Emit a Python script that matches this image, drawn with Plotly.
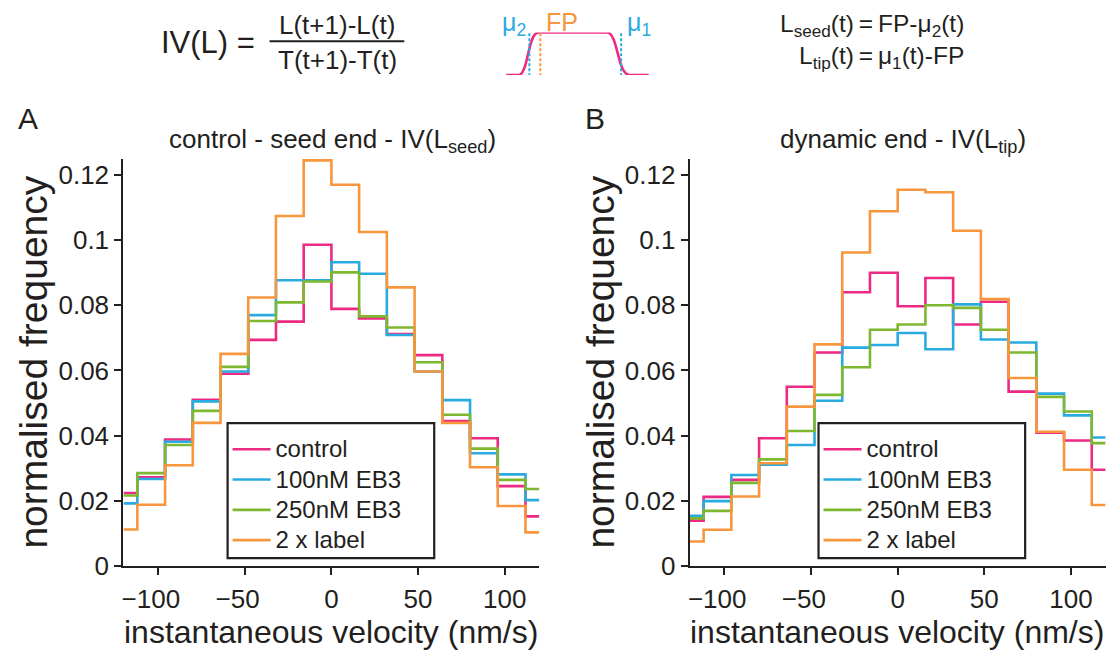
import plotly.graph_objects as go

# Histogram bin centres (nm/s), bin width 16
bin_centres = [-120, -104, -88, -72, -56, -40, -24, -8, 8, 24, 40, 56, 72, 88, 104, 120]

series_names = ["control", "100nM EB3", "250nM EB3", "2 x label"]
series_colours = ["#EC2A83", "#29AAE1", "#7DB830", "#F7963C"]

# Panel A: seed end, IV(L_seed)
seed_control = [0.0224, 0.0272, 0.0388, 0.0510, 0.0590, 0.0694, 0.0750, 0.0986,
                0.0789, 0.0760, 0.0712, 0.0647, 0.0445, 0.0392, 0.0245, 0.0152]
seed_100nM = [0.0192, 0.0267, 0.0381, 0.0505, 0.0597, 0.0770, 0.0877, 0.0877,
              0.0932, 0.0897, 0.0709, 0.0597, 0.0509, 0.0346, 0.0281, 0.0202]
seed_250nM = [0.0216, 0.0285, 0.0371, 0.0476, 0.0611, 0.0752, 0.0809, 0.0873,
              0.0901, 0.0766, 0.0732, 0.0625, 0.0464, 0.0360, 0.0264, 0.0236]
seed_2x = [0.0112, 0.0188, 0.0309, 0.0439, 0.0651, 0.0824, 0.1074, 0.1245,
           0.1170, 0.1025, 0.0855, 0.0597, 0.0439, 0.0303, 0.0184, 0.0103]

# Panel B: dynamic end, IV(L_tip)
tip_control = [0.0139, 0.0212, 0.0264, 0.0392, 0.0550, 0.0655, 0.0840, 0.0900,
               0.0797, 0.0884, 0.0741, 0.0811, 0.0535, 0.0409, 0.0385, 0.0295]
tip_100nM = [0.0154, 0.0199, 0.0279, 0.0311, 0.0371, 0.0507, 0.0670, 0.0678,
             0.0715, 0.0665, 0.0803, 0.0695, 0.0686, 0.0529, 0.0462, 0.0394]
tip_250nM = [0.0146, 0.0169, 0.0255, 0.0327, 0.0414, 0.0525, 0.0610, 0.0725,
             0.0741, 0.0800, 0.0792, 0.0725, 0.0655, 0.0519, 0.0474, 0.0377]
tip_2x = [0.0075, 0.0111, 0.0213, 0.0315, 0.0489, 0.0680, 0.0962, 0.1089,
          0.1155, 0.1147, 0.1029, 0.0819, 0.0577, 0.0412, 0.0295, 0.0187]

y_tickvals = [0, 0.02, 0.04, 0.06, 0.08, 0.1, 0.12]
y_ticktext = ["0", "0.02", "0.04", "0.06", "0.08", "0.1", "0.12"]
x_tickvals = [-100, -50, 0, 50, 100]
# negative labels keep their digits centred on the tick, minus sign hanging left
x_ticktext = ["\u2212100\u2007", "\u221250\u2007", "0", "50", "100"]

W, H = 1115, 664
FONT = "Liberation Sans, Arial, sans-serif"
INK = "#231F20"


def px(x):
    return x / W


def py(y):
    return 1 - y / H


fig = go.Figure()

panels = [
    ("x", "y", "legend", [seed_control, seed_100nM, seed_250nM, seed_2x]),
    ("x2", "y2", "legend2", [tip_control, tip_100nM, tip_250nM, tip_2x]),
]
for xa, ya, leg, data in panels:
    for name, colour, vals in zip(series_names, series_colours, data):
        fig.add_trace(go.Scatter(
            x=bin_centres, y=vals, mode="lines",
            name="<span style='font-size:24px'>%s</span>" % name,
            line=dict(color=colour, width=2.6, shape="hvh"),
            xaxis=xa, yaxis=ya, legend=leg, showlegend=True,
        ))

axis_common = dict(
    showgrid=False, zeroline=False, showline=True, linecolor=INK, linewidth=2.4,
    ticks="outside", ticklen=7, tickwidth=2, tickcolor=INK,
    tickfont=dict(family=FONT, size=26, color=INK),
)
plot_top, plot_bottom = 162.4, 579
ydom = [py(plot_bottom), py(plot_top)]

fig.update_layout(
    width=W, height=H,
    margin=dict(l=0, r=0, t=0, b=0),
    paper_bgcolor="white", plot_bgcolor="white",
    font=dict(family=FONT, color=INK),
    xaxis=dict(domain=[px(121.7), px(538.3)], range=[-120, 120], anchor="y",
               tickvals=x_tickvals, ticktext=x_ticktext, ticklabelstandoff=2,
               **axis_common),
    yaxis=dict(domain=ydom, range=[0, 0.125], anchor="x",
               tickvals=y_tickvals, ticktext=y_ticktext, **axis_common),
    xaxis2=dict(domain=[px(689), px(1105.6)], range=[-120, 120], anchor="y2",
                tickvals=x_tickvals, ticktext=x_ticktext, ticklabelstandoff=2,
                **axis_common),
    yaxis2=dict(domain=ydom, range=[0, 0.125], anchor="x2",
                tickvals=y_tickvals, ticktext=y_ticktext, **axis_common),
    # axes for the profile sketch above the panels
    xaxis3=dict(domain=[px(505), px(648)], range=[0, 7], anchor="y3", visible=False),
    yaxis3=dict(domain=[py(76.7), py(33.3)], range=[0, 1], anchor="x3", visible=False),
)

legend_common = dict(
    bgcolor="rgba(0,0,0,0)", borderwidth=0,
    font=dict(family=FONT, size=21, color=INK),
    xanchor="left", yanchor="top", tracegroupgap=0, itemwidth=38,
)
fig.update_layout(
    legend=dict(x=px(226), y=py(439), **legend_common),
    legend2=dict(x=px(818), y=py(439), **legend_common),
)

annotations = []


def text(x, y, s, size, colour=INK, xanchor="center", yanchor="middle"):
    annotations.append(dict(
        x=px(x), y=py(y), xref="paper", yref="paper", text=s, showarrow=False,
        xanchor=xanchor, yanchor=yanchor,
        font=dict(family=FONT, size=size, color=colour),
    ))


# panel letters and titles
text(26, 121.5, "A", 30)
text(594, 121.5, "B", 30)
text(331, 144, "control - seed end - IV(L<sub>seed</sub>)", 26)
text(903, 144, "dynamic end - IV(L<sub>tip</sub>)", 26)

# axis titles
for cx in (330, 897):
    text(cx, 647, "instantaneous velocity (nm/s)", 32)
for lx in (32, 600):
    annotations.append(dict(
        x=px(lx), y=py(370), xref="paper", yref="paper",
        text="normalised frequency", textangle=-90, showarrow=False,
        xanchor="center", yanchor="middle",
        font=dict(family=FONT, size=39, color=INK),
    ))

# instantaneous velocity definition
text(206, 43, "IV(L) =", 31)
text(336, 26, "L(t+1)-L(t)", 26)
text(336, 61, "T(t+1)-T(t)", 26)

# length definitions
text(966, 26, "L<sub>seed</sub>(t)\u2009=\u2009FP-\u03bc<sub>2</sub>(t)", 24.5, xanchor="right")
text(966, 59, "L<sub>tip</sub>(t)\u2009=\u2009\u03bc<sub>1</sub>(t)-FP", 24.5, xanchor="right")

# sketch labels
BLUE, ORANGE, PINK = series_colours[1], series_colours[3], series_colours[0]
text(513, 25, "\u03bc<sub>2</sub>", 25, BLUE)
text(561, 22, "FP", 25, ORANGE)
text(638, 25, "\u03bc<sub>1</sub>", 25, BLUE)

fig.update_layout(annotations=annotations)

shapes = [
    # legend frames
    dict(type="rect", xref="paper", yref="paper", x0=px(226), x1=px(433),
         y0=py(571), y1=py(433), line=dict(color=INK, width=2.2),
         fillcolor="white", layer="above"),
    dict(type="rect", xref="paper", yref="paper", x0=px(818), x1=px(1025),
         y0=py(571), y1=py(433), line=dict(color=INK, width=2.2),
         fillcolor="white", layer="above"),
    # fraction bar
    dict(type="line", xref="paper", yref="paper", x0=px(268), x1=px(403),
         y0=py(42.3), y1=py(42.3), line=dict(color=INK, width=2)),
    # intensity profile of the microtubule
    dict(type="path", xref="x3", yref="y3",
         path="M 0,0 L 0.6,0 C 1.1,0 1.05,1 1.6,1 L 4.95,1 C 5.5,1 5.45,0 6.05,0 L 7,0",
         line=dict(color=PINK, width=2.6)),
    # fitted positions
    dict(type="line", xref="x3", yref="y3", x0=1.14, x1=1.14, y0=-0.03, y1=1.58,
         line=dict(color=BLUE, width=2, dash="3px,2px")),
    dict(type="line", xref="x3", yref="y3", x0=1.68, x1=1.68, y0=-0.03, y1=1.58,
         line=dict(color=ORANGE, width=2, dash="3px,2px")),
    dict(type="line", xref="x3", yref="y3", x0=5.64, x1=5.64, y0=-0.03, y1=1.58,
         line=dict(color=BLUE, width=2, dash="3px,2px")),
]
fig.update_layout(shapes=shapes)

fig.write_html("out.html")
